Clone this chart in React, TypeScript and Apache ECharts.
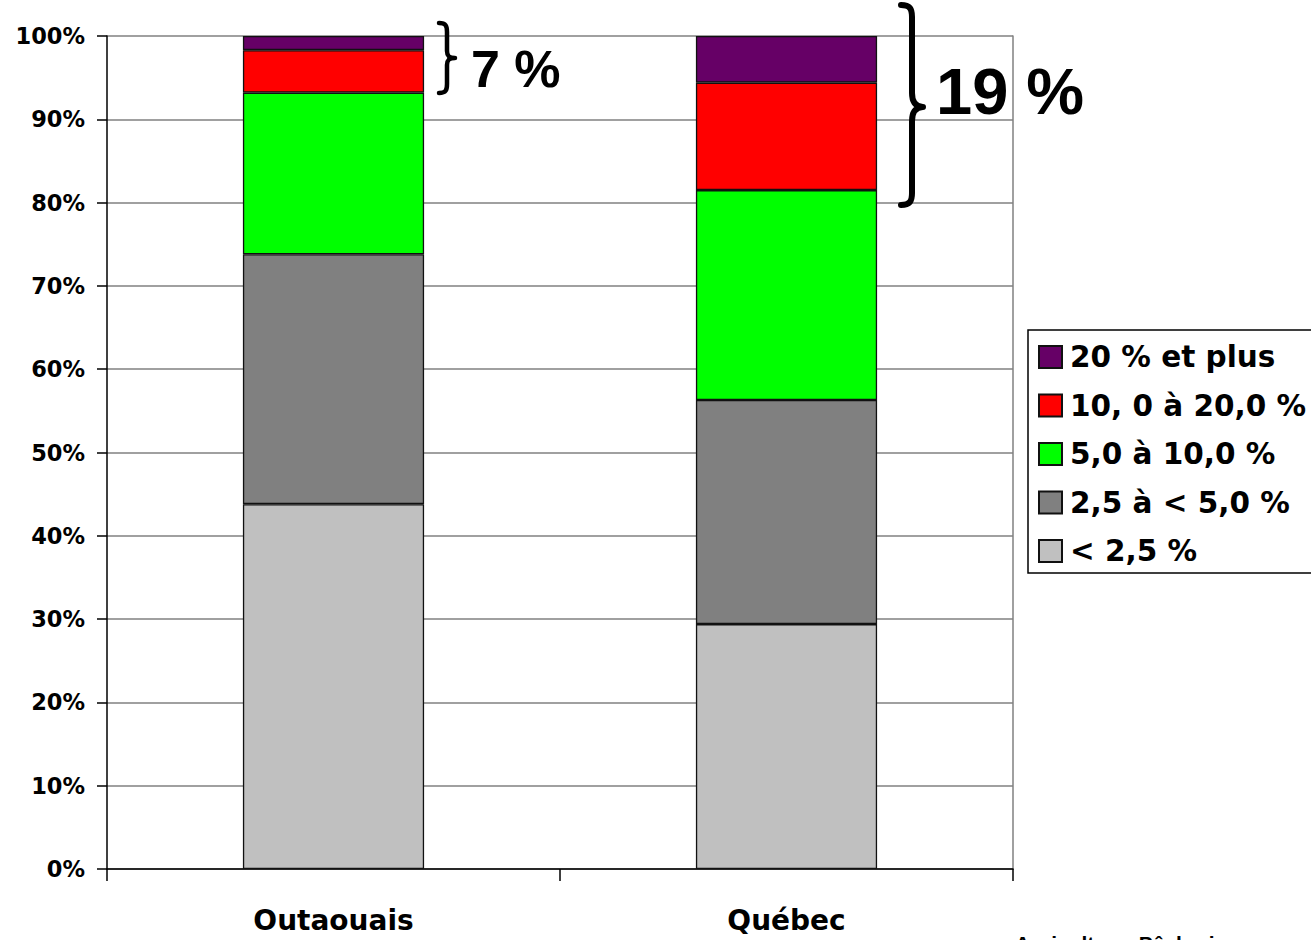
import React, { useEffect, useRef } from "react";
import * as echarts from "echarts";

const categories = ["Outaouais", "Québec"];
const seriesNames = ["< 2,5 %", "2,5 à < 5,0 %", "5,0 à 10,0 %", "10, 0 à 20,0 %", "20 % et plus"];
const seriesColors = ["#C0C0C0", "#808080", "#00FF00", "#FF0000", "#660066"];
const lt25 = [43.8, 29.4];
const from25to5 = [30.0, 26.9];
const from5to10 = [19.4, 25.2];
const from10to20 = [5.1, 12.9];
const over20 = [1.7, 5.6];
const yTicks = { min: 0, max: 100, interval: 10 };
const annotations = ["7 %", "19 %"];
const footer = "Agriculture, Pêcheries";

const FONT = "'Liberation Sans', Arial, sans-serif";
const WIDE = "'DejaVu Sans', 'Liberation Sans', sans-serif";

echarts.graphic.registerShape(
  "braceSmall",
  echarts.graphic.extendPath(
    "M0,0 C7,0 8,3 8,9 L8,28 C8,33 10,35 16,35 C10,35 8,37 8,42 L8,61 C8,67 7,70 0,70",
    {}
  )
);
echarts.graphic.registerShape(
  "braceLarge",
  echarts.graphic.extendPath(
    "M0,0 C9,0 11,4 11,12 L11,88 C11,96 14,102 22,102 C14,102 11,108 11,116 L11,188 C11,196 9,200 0,200",
    {}
  )
);

export default function App() {
  const ref = useRef<HTMLDivElement>(null);
  useEffect(() => {
    if (!ref.current) return;
    const chart = echarts.init(ref.current, null, { renderer: "svg" });
    const values = [lt25, from25to5, from5to10, from10to20, over20];
    chart.setOption({
      animation: false,
      backgroundColor: "#ffffff",
      grid: { left: 107, right: 298, top: 36, bottom: 71, containLabel: false },
      legend: {
        data: seriesNames.slice().reverse(),
        orient: "vertical",
        left: 1038,
        top: 342,
        padding: 0,
        itemWidth: 23,
        itemHeight: 22,
        itemGap: 18.5,
        icon: "rect",
        textStyle: {
          fontFamily: WIDE,
          fontSize: 29.5,
          fontWeight: "bold",
          color: "#000",
          lineHeight: 30,
          padding: [0, 0, 0, 3],
        },
        z: 5,
      },
      xAxis: {
        type: "category",
        data: categories,
        boundaryGap: true,
        axisLine: { lineStyle: { color: "#000", width: 1.5 } },
        axisTick: { show: true, length: 12, lineStyle: { color: "#000", width: 1.5 } },
        axisLabel: {
          fontFamily: WIDE,
          fontSize: 28,
          fontWeight: "bold",
          color: "#000",
          margin: 37,
        },
      },
      yAxis: [
        {
          type: "value",
          min: yTicks.min,
          max: yTicks.max,
          interval: yTicks.interval,
          axisLine: { show: true, lineStyle: { color: "#000", width: 1.5 } },
          axisTick: { show: true, inside: false, length: 10, lineStyle: { color: "#000", width: 1.5 } },
          splitLine: { show: true, lineStyle: { color: "#808080", width: 1.5 } },
          axisLabel: {
            formatter: "{value}%",
            fontFamily: WIDE,
            fontSize: 22.5,
            fontWeight: "bold",
            color: "#000",
            margin: 22,
          },
        },
        {
          type: "value",
          position: "right",
          min: yTicks.min,
          max: yTicks.max,
          interval: yTicks.interval,
          axisLine: { show: true, lineStyle: { color: "#808080", width: 1.5 } },
          axisTick: { show: false },
          axisLabel: { show: false },
          splitLine: { show: false },
        },
      ],
      series: seriesNames.map((name, i) => ({
        name,
        type: "bar",
        stack: "total",
        barWidth: "40%",
        data: values[i],
        itemStyle: { color: seriesColors[i], borderColor: "#111", borderWidth: 1.3 },
      })),
      graphic: [
        {
          type: "rect",
          z: 1,
          shape: { x: 1028, y: 330, width: 300, height: 243 },
          style: { fill: "#fff", stroke: "#000", lineWidth: 1.5 },
        },
        {
          type: "braceSmall",
          x: 439,
          y: 23,
          z: 10,
          style: { fill: "none", stroke: "#000", lineWidth: 4.5, lineCap: "round", lineJoin: "round" },
        },
        {
          type: "braceLarge",
          x: 901,
          y: 5,
          z: 10,
          style: { fill: "none", stroke: "#000", lineWidth: 6, lineCap: "round", lineJoin: "round" },
        },
        {
          type: "text",
          x: 471,
          y: 69,
          z: 10,
          style: {
            text: annotations[0],
            fontFamily: FONT,
            fontSize: 52,
            fontWeight: "bold",
            fill: "#000",
            verticalAlign: "middle",
          },
        },
        {
          type: "text",
          x: 936,
          y: 91,
          z: 10,
          style: {
            text: annotations[1],
            fontFamily: FONT,
            fontSize: 65,
            fontWeight: "bold",
            fill: "#000",
            verticalAlign: "middle",
          },
        },
        {
          type: "text",
          x: 1015,
          y: 933,
          z: 10,
          style: {
            text: footer,
            fontFamily: FONT,
            fontSize: 21,
            fontWeight: "bold",
            fill: "#000",
            verticalAlign: "top",
          },
        },
      ],
    });
    return () => chart.dispose();
  }, []);
  return (
    <div
      ref={ref}
      style={{ position: "absolute", left: 0, top: 0, width: 1311, height: 940 }}
    />
  );
}
